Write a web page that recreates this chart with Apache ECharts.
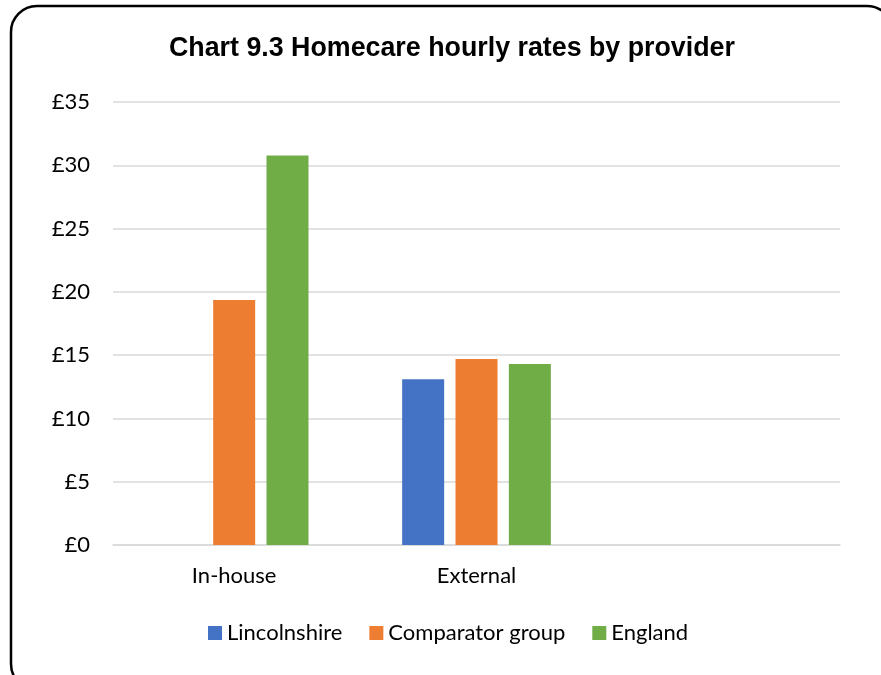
<!DOCTYPE html>
<html>
<head>
<meta charset="utf-8">
<title>Homecare hourly rates by provider</title>
<script src="https://cdn.jsdelivr.net/npm/echarts@6/dist/echarts.min.js"></script>
<style>
  html, body { margin: 0; padding: 0; background: #fff; }
  #chart { width: 881px; height: 675px; }
</style>
</head>
<body>
<div id="chart"></div>
<script>
// Provider categories (third slot left blank, as in the workbook range)
var categories = ['In-house', 'External', ''];

// Hourly rates (£) per area
var lincolnshire = [null, 13.1, null];
var comparatorGroup = [19.35, 14.7, null];
var england = [30.78, 14.3, null];

var yTicks = { min: 0, max: 35, interval: 5 };

var labelFont = 'Lato, "Open Sans", "Noto Sans", sans-serif';

var chart = echarts.init(document.getElementById('chart'), null, { renderer: 'canvas' });

function barSeries(name, data, color) {
  return {
    name: name,
    type: 'bar',
    data: data,
    barWidth: 42,
    barGap: '27%',
    itemStyle: { color: color },
    emphasis: { disabled: true }
  };
}

chart.setOption({
  animation: false,
  backgroundColor: '#ffffff',
  title: {
    text: 'Chart 9.3 Homecare hourly rates by provider',
    left: 164,
    top: 30,
    textStyle: {
      fontFamily: '"Liberation Sans", Arial, sans-serif',
      fontWeight: 'bold',
      fontSize: 26.8,
      color: '#000'
    }
  },
  graphic: [{
    type: 'rect',
    shape: { x: 11, y: 6, width: 882, height: 684, r: 26 },
    style: { fill: 'none', stroke: '#000', lineWidth: 2.5 },
    silent: true
  }],
  legend: {
    bottom: 26,
    left: 203,
    itemWidth: 14,
    itemHeight: 14,
    itemGap: 27,
    icon: 'rect',
    textStyle: { fontFamily: labelFont, fontSize: 22, color: '#000', padding: [0, 0, 0, 0] },
    data: ['Lincolnshire', 'Comparator group', 'England']
  },
  grid: { left: 113, right: 41, top: 102, bottom: 130 },
  xAxis: {
    type: 'category',
    data: categories,
    axisLine: { show: true, lineStyle: { color: '#d9d9d9', width: 1.5 } },
    axisTick: { show: false },
    axisLabel: { fontFamily: labelFont, fontSize: 22, color: '#000', margin: 20 }
  },
  yAxis: {
    type: 'value',
    min: yTicks.min,
    max: yTicks.max,
    interval: yTicks.interval,
    axisLine: { show: false },
    axisTick: { show: false },
    splitLine: { lineStyle: { color: '#d9d9d9', width: 1.5 } },
    axisLabel: {
      fontFamily: labelFont,
      fontSize: 22,
      color: '#000',
      margin: 23,
      formatter: function (v) { return '£' + v; }
    }
  },
  series: [
    barSeries('Lincolnshire', lincolnshire, '#4472C4'),
    barSeries('Comparator group', comparatorGroup, '#ED7D31'),
    barSeries('England', england, '#70AD47')
  ]
});
</script>
</body>
</html>
